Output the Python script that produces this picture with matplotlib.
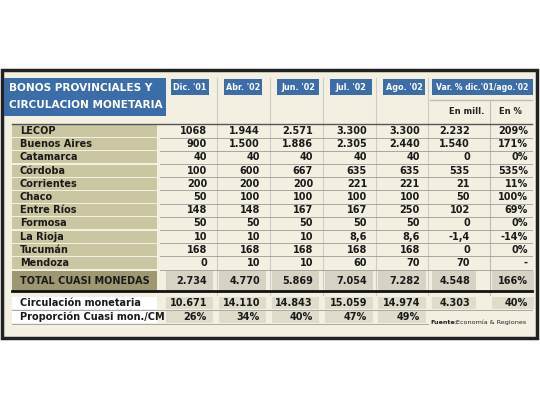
import matplotlib
matplotlib.use("Agg")
import matplotlib.pyplot as plt
from matplotlib.patches import Rectangle

title = ["BONOS PROVINCIALES Y", "CIRCULACION MONETARIA"]
months = ["Dic. '01", "Abr. '02", "Jun. '02", "Jul. '02", "Ago. '02"]
var_head = "Var. % dic.'01/ago.'02"
sub_heads = ["En mill.", "En %"]
provinces = ["LECOP", "Buenos Aires", "Catamarca", "Córdoba", "Corrientes", "Chaco",
             "Entre Ríos", "Formosa", "La Rioja", "Tucumán", "Mendoza"]
values = [
    ["1068", "1.944", "2.571", "3.300", "3.300", "2.232", "209%"],
    ["900", "1.500", "1.886", "2.305", "2.440", "1.540", "171%"],
    ["40", "40", "40", "40", "40", "0", "0%"],
    ["100", "600", "667", "635", "635", "535", "535%"],
    ["200", "200", "200", "221", "221", "21", "11%"],
    ["50", "100", "100", "100", "100", "50", "100%"],
    ["148", "148", "167", "167", "250", "102", "69%"],
    ["50", "50", "50", "50", "50", "0", "0%"],
    ["10", "10", "10", "8,6", "8,6", "-1,4", "-14%"],
    ["168", "168", "168", "168", "168", "0", "0%"],
    ["0", "10", "10", "60", "70", "70", "-"],
]
total_label = "TOTAL CUASI MONEDAS"
total = ["2.734", "4.770", "5.869", "7.054", "7.282", "4.548", "166%"]
circ_label = "Circulación monetaria"
circ = ["10.671", "14.110", "14.843", "15.059", "14.974", "4.303", "40%"]
prop_label = "Proporción Cuasi mon./CM"
prop = ["26%", "34%", "40%", "47%", "49%"]
source = "Economía & Regiones"

bg = "#f4f0e1"
blue = "#3b6ea8"
olive = "#cbc6a2"
dark_olive = "#9e9872"
fs = 7.0

fig = plt.figure(figsize=(5.4, 4.05), dpi=100)
ax = fig.add_axes([0, 0, 1, 1])
ax.set_xlim(0, 540)
ax.set_ylim(405, 0)
ax.axis("off")

ax.add_patch(Rectangle((2, 70), 535, 268, facecolor=bg, edgecolor="#222222", lw=2.5))

# title box
ax.add_patch(Rectangle((4, 78), 162, 38, facecolor=blue, edgecolor="none"))
ax.text(9, 88, title[0], color="white", fontsize=7.6, fontweight="bold", va="center")
ax.text(9, 105, title[1], color="white", fontsize=7.6, fontweight="bold", va="center")

col_left = [171, 224, 277, 330, 383]
col_w = [38, 38, 42, 42, 42]
col_right = [207, 260, 313, 367, 420, 470, 528]
for x, w, m in zip(col_left, col_w, months):
    ax.add_patch(Rectangle((x, 79), w, 16, facecolor=blue, edgecolor="none"))
    ax.text(x + w / 2, 87, m, color="white", fontsize=5.8, fontweight="bold", ha="center", va="center")
ax.add_patch(Rectangle((432, 79), 101, 16, facecolor=blue, edgecolor="none"))
ax.text(482, 87, var_head, color="white", fontsize=5.5, fontweight="bold", ha="center", va="center")
ax.text(467, 112, sub_heads[0], fontsize=6, fontweight="bold", ha="center", va="center", color="#222")
ax.text(510, 112, sub_heads[1], fontsize=6, fontweight="bold", ha="center", va="center", color="#222")
ax.plot([430, 532], [100, 100], color="#bbbbbb", lw=1)
ax.plot([490, 490], [100, 295], color="#bbbbbb", lw=0.8)
for x in [217, 270, 323, 376, 428]:
    ax.plot([x, x], [78, 295], color="#cccccc", lw=0.8)
ax.plot([12, 532], [124, 124], color="#555555", lw=1)

row_y = [131 + 13.2 * i for i in range(len(provinces))]
for y, name, row in zip(row_y, provinces, values):
    ax.add_patch(Rectangle((12, y - 6), 145, 12, facecolor=olive, edgecolor="none"))
    ax.text(20, y, name, fontsize=fs, fontweight="bold", va="center", color="#1a1a1a")
    ax.plot([160, 532], [y + 6.6, y + 6.6], color="#9a9a9a", lw=0.6)
    for xr, v in zip(col_right, row):
        ax.text(xr, y, v, fontsize=fs, fontweight="bold", ha="right", va="center", color="#1a1a1a")

# total row
ty = 281
ax.add_patch(Rectangle((12, ty - 10), 145, 20, facecolor=dark_olive, edgecolor="none"))
ax.text(20, ty, total_label, fontsize=fs, fontweight="bold", va="center", color="#1a1a1a")
cell_l = [166, 219, 272, 325, 378, 432, 492]
for xl, xr, v in zip(cell_l, col_right, total):
    ax.add_patch(Rectangle((xl, ty - 10), xr - xl + 6, 20, facecolor="#d6d2c4", edgecolor="none"))
    ax.text(xr, ty, v, fontsize=fs, fontweight="bold", ha="right", va="center", color="#1a1a1a")
ax.plot([12, 532], [291, 291], color="#111111", lw=2)

# bottom rows
for y, label, row in [(303, circ_label, circ), (317, prop_label, prop)]:
    ax.add_patch(Rectangle((12, y - 6), 145, 12, facecolor="white", edgecolor="none"))
    ax.text(20, y, label, fontsize=fs, fontweight="bold", va="center", color="#1a1a1a")
    for xl, xr, v in zip(cell_l, col_right, row):
        ax.add_patch(Rectangle((xl, y - 6), xr - xl + 6, 12, facecolor="#e0dccc", edgecolor="none"))
        ax.text(xr, y, v, fontsize=fs, fontweight="bold", ha="right", va="center", color="#1a1a1a")
    ax.plot([12, 532 if row is circ else 428], [y + 7, y + 7], color="#9a9a9a", lw=0.6)

ax.text(430, 322, "Fuente:", fontsize=4.6, fontweight="bold", va="center", color="#222")
ax.text(456, 322, source, fontsize=4.6, va="center", color="#222")

fig.savefig("out.png", dpi=100, facecolor="white")
